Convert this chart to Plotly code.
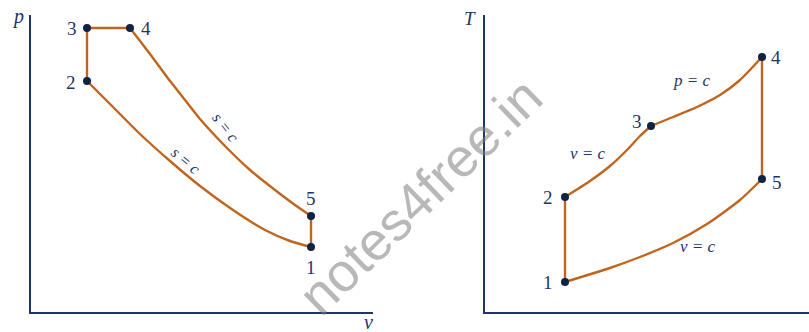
import plotly.graph_objects as go

W, H = 809, 332

LINE = "#c0651e"
DOT = "#0f2344"
INK = "#1e3565"
SERIF = "Liberation Serif"

# ---- p–v diagram (arbitrary units) ----
pv_labels = ["1", "2", "3", "4", "5"]
pv_v = [280, 56, 56, 99, 280]
pv_p = [65, 231, 284, 284, 96]

# isentropic compression 2 -> 1 (s = c)
comp_v = [56, 79, 109, 139, 169, 202, 234, 259, 280]
comp_p = [231, 208, 178, 151, 126, 102, 82, 71, 65]

# isentropic expansion 4 -> 5 (s = c)
exp_v = [99, 119, 136, 154, 169, 194, 219, 244, 264, 280]
exp_p = [284, 258, 235, 212, 193, 166, 142, 122, 107, 96]

# ---- T–s diagram (arbitrary units) ----
ts_labels = ["1", "2", "3", "4", "5"]
ts_s = [80, 80, 166, 277, 277]
ts_T = [30, 115, 186, 255, 133]

# constant-volume heat addition 2 -> 3
v23_s = [80, 105, 125, 142, 155, 166]
v23_T = [115, 131, 146, 162, 176, 186]

# constant-pressure heat addition 3 -> 4
p34_s = [166, 188, 212, 235, 255, 277]
p34_T = [186, 195, 205, 217, 232, 255]

# constant-volume heat rejection 5 -> 1
v51_s = [80, 122, 155, 188, 222, 255, 277]
v51_T = [30, 43, 55, 69, 88, 112, 133]

fig = go.Figure()


def seg(x, y, xa, ya, spline=True):
    fig.add_trace(go.Scatter(
        x=x, y=y, mode="lines", xaxis=xa, yaxis=ya, hoverinfo="skip",
        line=dict(color=LINE, width=2.4, shape="spline" if spline else "linear",
                  smoothing=0.6),
        showlegend=False))


# p–v cycle: 1-2 s=c, 2-3 v=c, 3-4 p=c, 4-5 s=c, 5-1 v=c
i = {k: n for n, k in enumerate(pv_labels)}
seg(comp_v, comp_p, "x", "y")
seg([pv_v[i["2"]], pv_v[i["3"]]], [pv_p[i["2"]], pv_p[i["3"]]], "x", "y", False)
seg([pv_v[i["3"]], pv_v[i["4"]]], [pv_p[i["3"]], pv_p[i["4"]]], "x", "y", False)
seg(exp_v, exp_p, "x", "y")
seg([pv_v[i["5"]], pv_v[i["1"]]], [pv_p[i["5"]], pv_p[i["1"]]], "x", "y", False)

# T–s cycle
j = {k: n for n, k in enumerate(ts_labels)}
seg([ts_s[j["1"]], ts_s[j["2"]]], [ts_T[j["1"]], ts_T[j["2"]]], "x2", "y2", False)
seg(v23_s, v23_T, "x2", "y2")
seg(p34_s, p34_T, "x2", "y2")
seg([ts_s[j["4"]], ts_s[j["5"]]], [ts_T[j["4"]], ts_T[j["5"]]], "x2", "y2", False)
seg(v51_s, v51_T, "x2", "y2")

fig.add_trace(go.Scatter(x=pv_v, y=pv_p, mode="markers", xaxis="x", yaxis="y",
                         marker=dict(color=DOT, size=8), hoverinfo="skip",
                         showlegend=False))
fig.add_trace(go.Scatter(x=ts_s, y=ts_T, mode="markers", xaxis="x2", yaxis="y2",
                         marker=dict(color=DOT, size=8), hoverinfo="skip",
                         showlegend=False))

ann = []

# state-point numbers, offset from their points
pv_off = {"1": (0, -20), "2": (-16, -1), "3": (-15, 0), "4": (16, 0), "5": (0, 18)}
for k, x, y in zip(pv_labels, pv_v, pv_p):
    dx, dy = pv_off[k]
    ann.append(dict(x=x, y=y, xref="x", yref="y", text=k, showarrow=False,
                    xshift=dx, yshift=dy, font=dict(family=SERIF, size=19, color=INK)))

ts_off = {"1": (-17, 0), "2": (-17, 0), "3": (-14, 5), "4": (14, 0), "5": (15, -3)}
for k, x, y in zip(ts_labels, ts_s, ts_T):
    dx, dy = ts_off[k]
    ann.append(dict(x=x, y=y, xref="x2", yref="y2", text=k, showarrow=False,
                    xshift=dx, yshift=dy, font=dict(family=SERIF, size=19, color=INK)))


def paper_text(px, py, text, size, angle=0, italic=True, color=INK, family=SERIF):
    ann.append(dict(x=px / W, y=1 - py / H, xref="paper", yref="paper",
                    text=text, showarrow=False, textangle=angle,
                    xanchor="center", yanchor="middle",
                    font=dict(family=family, size=size, color=color,
                              style="italic" if italic else "normal")))


# axis titles
paper_text(18, 17, "p", 20)
paper_text(368, 322, "v", 20)
paper_text(470, 18, "T", 19)

# process labels
paper_text(226, 127, "s = c", 16, angle=52)
paper_text(186, 160, "s = c", 16, angle=40)
paper_text(691, 80, "p = c", 17)
paper_text(588, 153, "v = c", 17)
paper_text(698, 246, "v = c", 17)

# site watermark
paper_text(420, 196, "notes4free.in", 54, angle=-44, italic=False,
           color="rgba(125,125,125,0.55)", family="Liberation Sans")

axis_common = dict(showgrid=False, zeroline=False, showticklabels=False, ticks="",
                   showline=True, linecolor=INK, linewidth=2, fixedrange=True)

fig.update_layout(
    width=W, height=H,
    margin=dict(l=0, r=0, t=0, b=0),
    paper_bgcolor="white", plot_bgcolor="white",
    xaxis=dict(domain=[31 / W, 373 / W], range=[0, 342], anchor="y", **axis_common),
    yaxis=dict(domain=[20 / H, 317 / H], range=[0, 297], anchor="x", **axis_common),
    xaxis2=dict(domain=[485 / W, 1], range=[0, 324], anchor="y2", **axis_common),
    yaxis2=dict(domain=[20 / H, 317 / H], range=[0, 297], anchor="x2", **axis_common),
    annotations=ann,
)

fig.write_html("out.html")
